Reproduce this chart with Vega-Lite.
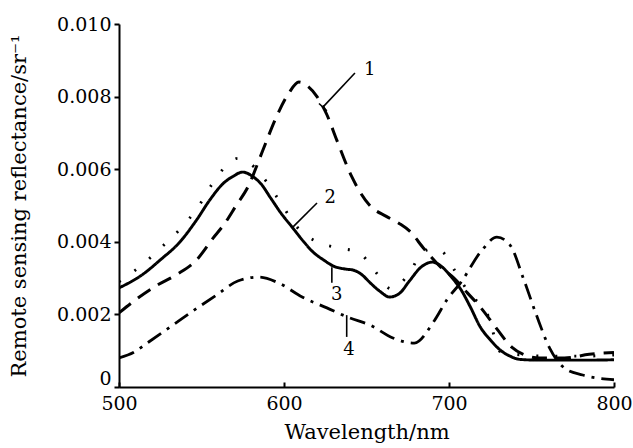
{
  "$schema": "https://vega.github.io/schema/vega-lite/v6.json",
  "autosize": "none",
  "width": 495,
  "height": 363,
  "padding": {"left": 119, "top": 24, "right": 19, "bottom": 61},
  "background": "white",
  "config": {
    "view": {"stroke": null},
    "font": "DejaVu Serif",
    "axis": {"labelFont": "DejaVu Serif", "titleFont": "DejaVu Serif", "labelColor": "black", "titleColor": "black", "domainColor": "black", "tickColor": "black", "grid": false, "labelFontSize": 19, "titleFontSize": 21, "titleFontWeight": "normal", "domainWidth": 2, "tickWidth": 2}
  },
  "datasets": {
    "curves": [
      {"s": "1", "wl": 500, "v": 0.00204}, {"s": "1", "wl": 510, "v": 0.0024}, {"s": "1", "wl": 523, "v": 0.0028}, {"s": "1", "wl": 535, "v": 0.0031}, {"s": "1", "wl": 547, "v": 0.0035}, {"s": "1", "wl": 557, "v": 0.0041}, {"s": "1", "wl": 564, "v": 0.0045}, {"s": "1", "wl": 571, "v": 0.005}, {"s": "1", "wl": 578, "v": 0.0055}, {"s": "1", "wl": 587, "v": 0.0065}, {"s": "1", "wl": 595, "v": 0.0074}, {"s": "1", "wl": 603, "v": 0.0081}, {"s": "1", "wl": 609, "v": 0.0084}, {"s": "1", "wl": 614, "v": 0.0083}, {"s": "1", "wl": 620, "v": 0.008}, {"s": "1", "wl": 626, "v": 0.0075}, {"s": "1", "wl": 632, "v": 0.0068}, {"s": "1", "wl": 641, "v": 0.0058}, {"s": "1", "wl": 652, "v": 0.005}, {"s": "1", "wl": 662, "v": 0.0047}, {"s": "1", "wl": 670, "v": 0.0045}, {"s": "1", "wl": 676, "v": 0.0043}, {"s": "1", "wl": 685, "v": 0.0038}, {"s": "1", "wl": 695, "v": 0.0033}, {"s": "1", "wl": 703, "v": 0.003}, {"s": "1", "wl": 711, "v": 0.0026}, {"s": "1", "wl": 719, "v": 0.0022}, {"s": "1", "wl": 729, "v": 0.0016}, {"s": "1", "wl": 738, "v": 0.0011}, {"s": "1", "wl": 745, "v": 0.0009}, {"s": "1", "wl": 755, "v": 0.0008}, {"s": "1", "wl": 770, "v": 0.0008}, {"s": "1", "wl": 785, "v": 0.0009}, {"s": "1", "wl": 800, "v": 0.00095},
      {"s": "2", "wl": 500, "v": 0.00273}, {"s": "2", "wl": 514, "v": 0.00309}, {"s": "2", "wl": 525, "v": 0.0035}, {"s": "2", "wl": 537, "v": 0.004}, {"s": "2", "wl": 547, "v": 0.0046}, {"s": "2", "wl": 555, "v": 0.00515}, {"s": "2", "wl": 563, "v": 0.0056}, {"s": "2", "wl": 569, "v": 0.0058}, {"s": "2", "wl": 575, "v": 0.00592}, {"s": "2", "wl": 581, "v": 0.0058}, {"s": "2", "wl": 586, "v": 0.0056}, {"s": "2", "wl": 592, "v": 0.0052}, {"s": "2", "wl": 598, "v": 0.0048}, {"s": "2", "wl": 605, "v": 0.0044}, {"s": "2", "wl": 612, "v": 0.004}, {"s": "2", "wl": 618, "v": 0.0037}, {"s": "2", "wl": 624, "v": 0.0035}, {"s": "2", "wl": 630, "v": 0.00333}, {"s": "2", "wl": 637, "v": 0.00325}, {"s": "2", "wl": 642, "v": 0.00322}, {"s": "2", "wl": 647, "v": 0.0031}, {"s": "2", "wl": 652, "v": 0.00288}, {"s": "2", "wl": 658, "v": 0.00264}, {"s": "2", "wl": 664, "v": 0.00248}, {"s": "2", "wl": 670, "v": 0.00258}, {"s": "2", "wl": 676, "v": 0.00292}, {"s": "2", "wl": 683, "v": 0.0033}, {"s": "2", "wl": 690, "v": 0.00344}, {"s": "2", "wl": 696, "v": 0.0033}, {"s": "2", "wl": 702, "v": 0.003}, {"s": "2", "wl": 707, "v": 0.0027}, {"s": "2", "wl": 713, "v": 0.0022}, {"s": "2", "wl": 719, "v": 0.00165}, {"s": "2", "wl": 725, "v": 0.0013}, {"s": "2", "wl": 731, "v": 0.00102}, {"s": "2", "wl": 737, "v": 0.00085}, {"s": "2", "wl": 743, "v": 0.00076}, {"s": "2", "wl": 755, "v": 0.00074}, {"s": "2", "wl": 770, "v": 0.00074}, {"s": "2", "wl": 785, "v": 0.00074}, {"s": "2", "wl": 800, "v": 0.00075},
      {"s": "3", "wl": 500, "v": 0.0029}, {"s": "3", "wl": 513, "v": 0.00333}, {"s": "3", "wl": 526, "v": 0.00386}, {"s": "3", "wl": 538, "v": 0.0044}, {"s": "3", "wl": 548, "v": 0.00496}, {"s": "3", "wl": 556, "v": 0.00556}, {"s": "3", "wl": 566, "v": 0.00614}, {"s": "3", "wl": 572, "v": 0.0063}, {"s": "3", "wl": 579, "v": 0.00617}, {"s": "3", "wl": 590, "v": 0.00562}, {"s": "3", "wl": 598, "v": 0.00507}, {"s": "3", "wl": 608, "v": 0.0044}, {"s": "3", "wl": 620, "v": 0.004}, {"s": "3", "wl": 633, "v": 0.00383}, {"s": "3", "wl": 645, "v": 0.00372}, {"s": "3", "wl": 655, "v": 0.0032}, {"s": "3", "wl": 665, "v": 0.0027}, {"s": "3", "wl": 676, "v": 0.00314}, {"s": "3", "wl": 684, "v": 0.00372}, {"s": "3", "wl": 690, "v": 0.0038}, {"s": "3", "wl": 696, "v": 0.00372}, {"s": "3", "wl": 704, "v": 0.00317}, {"s": "3", "wl": 712, "v": 0.0026}, {"s": "3", "wl": 724, "v": 0.00193}, {"s": "3", "wl": 731, "v": 0.00098}, {"s": "3", "wl": 745, "v": 0.00088}, {"s": "3", "wl": 760, "v": 0.00085}, {"s": "3", "wl": 780, "v": 0.00085}, {"s": "3", "wl": 800, "v": 0.00088},
      {"s": "4", "wl": 500, "v": 0.0008}, {"s": "4", "wl": 509, "v": 0.00096}, {"s": "4", "wl": 518, "v": 0.00124}, {"s": "4", "wl": 531, "v": 0.00165}, {"s": "4", "wl": 545, "v": 0.0021}, {"s": "4", "wl": 559, "v": 0.00253}, {"s": "4", "wl": 572, "v": 0.00292}, {"s": "4", "wl": 585, "v": 0.00303}, {"s": "4", "wl": 597, "v": 0.00286}, {"s": "4", "wl": 611, "v": 0.00248}, {"s": "4", "wl": 626, "v": 0.00218}, {"s": "4", "wl": 640, "v": 0.0019}, {"s": "4", "wl": 652, "v": 0.00171}, {"s": "4", "wl": 666, "v": 0.00135}, {"s": "4", "wl": 679, "v": 0.00121}, {"s": "4", "wl": 691, "v": 0.00182}, {"s": "4", "wl": 699, "v": 0.00242}, {"s": "4", "wl": 707, "v": 0.00287}, {"s": "4", "wl": 720, "v": 0.00377}, {"s": "4", "wl": 729, "v": 0.00413}, {"s": "4", "wl": 737, "v": 0.00391}, {"s": "4", "wl": 745, "v": 0.003}, {"s": "4", "wl": 753, "v": 0.00198}, {"s": "4", "wl": 761, "v": 0.00107}, {"s": "4", "wl": 770, "v": 0.00052}, {"s": "4", "wl": 781, "v": 0.00033}, {"s": "4", "wl": 800, "v": 0.0002}
    ],
    "leaders": [
      {"wl": 623.6, "v": 0.00771, "wl2": 643, "v2": 0.00865},
      {"wl": 621.2, "v": 0.00781, "wl2": 626.0, "v2": 0.00761},
      {"wl": 605.5, "v": 0.00441, "wl2": 620, "v2": 0.00507},
      {"wl": 629, "v": 0.0033, "wl2": 629, "v2": 0.00287},
      {"wl": 638, "v": 0.00198, "wl2": 638, "v2": 0.00138}
    ],
    "labels": [
      {"wl": 652, "v": 0.00873, "t": "1"},
      {"wl": 628, "v": 0.0052, "t": "2"},
      {"wl": 632, "v": 0.00253, "t": "3"},
      {"wl": 639.4, "v": 0.00102, "t": "4"}
    ]
  },
  "layer": [
    {
      "data": {"name": "curves"},
      "mark": {"type": "line", "interpolate": "monotone", "color": "black", "clip": true},
      "encoding": {
        "x": {"field": "wl", "type": "quantitative", "scale": {"domain": [500, 800], "nice": false}, "axis": {"values": [500, 600, 700, 800], "title": "Wavelength/nm", "tickSize": -5, "labelPadding": 12, "titlePadding": 8, "labelFlush": false}},
        "y": {"field": "v", "type": "quantitative", "scale": {"domain": [0, 0.01], "nice": false}, "axis": {"values": [0, 0.002, 0.004, 0.006, 0.008, 0.01], "labelExpr": "datum.value == 0 ? '0' : format(datum.value, '.3f')", "labelOffset": {"condition": {"test": "datum.value == 0", "value": -9}, "value": 0}, "title": "Remote sensing reflectance/sr⁻¹", "tickSize": 5, "labelPadding": 3, "titlePadding": 27, "labelFlush": false}},
        "detail": {"field": "s"},
        "strokeDash": {"field": "s", "type": "nominal", "scale": {"domain": ["1", "2", "3", "4"], "range": [[15, 9], [1, 0], [2, 17], [16, 7, 3, 7]]}, "legend": null},
        "strokeWidth": {"field": "s", "type": "nominal", "scale": {"domain": ["1", "2", "3", "4"], "range": [3, 2.8, 3.6, 3]}, "legend": null}
      }
    },
    {
      "data": {"name": "leaders"},
      "mark": {"type": "rule", "color": "black", "strokeWidth": 1.6},
      "encoding": {
        "x": {"field": "wl", "type": "quantitative"},
        "y": {"field": "v", "type": "quantitative"},
        "x2": {"field": "wl2"},
        "y2": {"field": "v2"}
      }
    },
    {
      "data": {"name": "labels"},
      "mark": {"type": "text", "font": "DejaVu Serif", "fontSize": 18, "color": "black", "align": "center", "baseline": "middle"},
      "encoding": {
        "x": {"field": "wl", "type": "quantitative"},
        "y": {"field": "v", "type": "quantitative"},
        "text": {"field": "t"}
      }
    }
  ]
}
